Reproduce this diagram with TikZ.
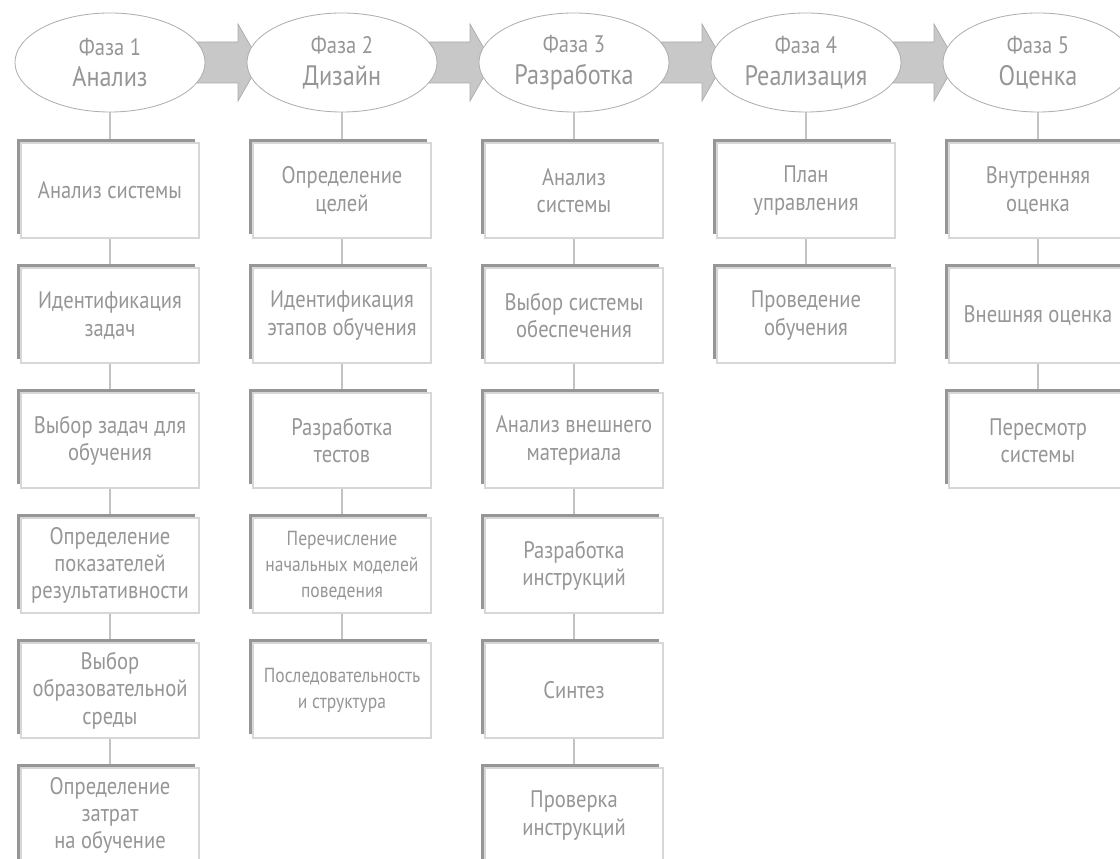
\documentclass[tikz,border=0pt]{standalone}
\usepackage{fontspec}
\setmainfont{PT Sans}[FakeStretch=0.86]
\usepackage{tikz}
\usetikzlibrary{calc}
\usetikzlibrary{shapes.geometric}
\usetikzlibrary{shadows}
\usetikzlibrary{backgrounds}
\definecolor{txtgray}{RGB}{150,150,150}
\definecolor{shadegray}{RGB}{150,150,150}
\definecolor{boxgray}{RGB}{215,215,215}
\definecolor{linkgray}{RGB}{195,195,195}
\definecolor{ovalgray}{RGB}{175,175,175}
\definecolor{arrowgray}{RGB}{200,200,200}
\definecolor{arrowedge}{RGB}{170,170,170}
\tikzset{
    phase/.style={ellipse,draw=ovalgray,fill=white,line width=0.6pt,minimum width=4.75cm,minimum height=2.475cm,inner sep=0pt,align=center,text=txtgray},
    stepbox/.style={rectangle,draw=boxgray,fill=white,line width=0.8pt,minimum width=4.45cm,minimum height=2.375cm,inner sep=1pt,align=center,text=txtgray,font=\fontsize{17}{19.5}\selectfont,
        general shadow={fill=shadegray,shadow xshift=-0.09cm,shadow yshift=0.09cm}},
    smallbox/.style={stepbox,font=\fontsize{14.5}{18.5}\selectfont},
    link/.style={draw=linkgray,line width=1pt},
    bigarrow/.style={fill=arrowgray,draw=arrowedge,line width=0.5pt}
}
\newcommand{\phasetext}[2]{{\fontsize{17}{18}\selectfont #1}\\[7pt]{\fontsize{20}{20}\selectfont #2}}

\begin{document}
\begin{tikzpicture}[x=0.025cm,y=-0.025cm]
\useasboundingbox (0,0) rectangle (1120,859);
\foreach \c/\x/\name in {1/110/Анализ, 2/342/Дизайн, 3/574/Разработка, 4/806/Реализация, 5/1038/Оценка}{
    \node[phase] (p\c) at (\x,62.5) {\phasetext{Фаза \c}{\name}};
}
\foreach \r/\t in {1/{Анализ системы}, 2/{Идентификация\\задач}, 3/{Выбор задач для\\обучения}, 4/{Определение\\показателей\\результативности}, 5/{Выбор\\образовательной\\среды}, 6/{Определение\\затрат\\на обучение}}{
    \node[stepbox] (b1-\r) at (110,{190.5+125*(\r-1)}) {\t};
}
\foreach \r/\t in {1/{Определение\\целей}, 2/{Идентификация\\этапов обучения}, 3/{Разработка\\тестов}}{
    \node[stepbox] (b2-\r) at (342,{190.5+125*(\r-1)}) {\t};
}
\foreach \r/\t in {4/{Перечисление\\начальных моделей\\поведения}, 5/{Последовательность\\и структура}}{
    \node[smallbox] (b2-\r) at (342,{190.5+125*(\r-1)}) {\t};
}
\foreach \r/\t in {1/{Анализ\\системы}, 2/{Выбор системы\\обеспечения}, 3/{Анализ внешнего\\материала}, 4/{Разработка\\инструкций}, 5/{Синтез}, 6/{Проверка\\инструкций}}{
    \node[stepbox] (b3-\r) at (574,{190.5+125*(\r-1)}) {\t};
}
\foreach \r/\t in {1/{План\\управления}, 2/{Проведение\\обучения}}{
    \node[stepbox] (b4-\r) at (806,{190.5+125*(\r-1)}) {\t};
}
\foreach \r/\t in {1/{Внутренняя\\оценка}, 2/{Внешняя оценка}, 3/{Пересмотр\\системы}}{
    \node[stepbox] (b5-\r) at (1038,{190.5+125*(\r-1)}) {\t};
}
\begin{scope}[on background layer]
\foreach \c/\n in {1/6, 2/5, 3/6, 4/2, 5/3}{
    \draw[link] (p\c) -- (b\c-1);
    \foreach \r [count=\q] in {2,...,\n}
        \draw[link] (b\c-\q) -- (b\c-\r);
}
\foreach \i/\j in {1/2, 2/3, 3/4, 4/5}{
    \draw[bigarrow] ($(p\i.center)+(82,-20.5)$) -- ++(46,0) -- ++(0,-18) -- ++(22,38.5) -- ++(-22,38.5) -- ++(0,-18) -- ++(-46,0) -- cycle;
}
\end{scope}
\end{tikzpicture}
\end{document}
